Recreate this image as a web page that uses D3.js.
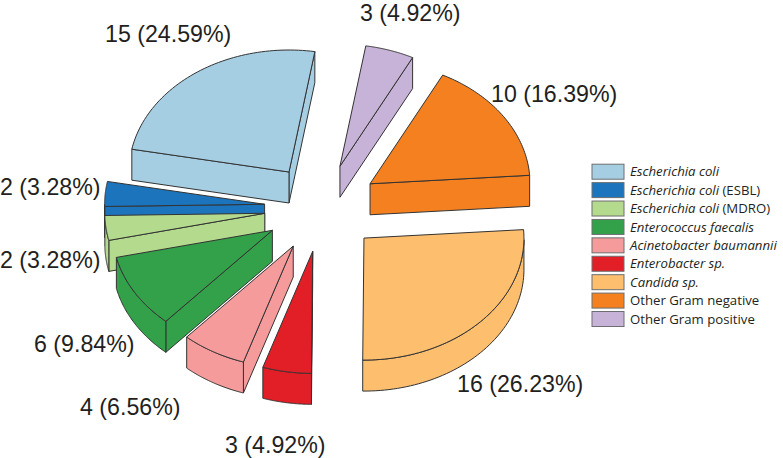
<!DOCTYPE html>
<html>
<head>
<meta charset="utf-8">
<script src="https://d3js.org/d3.v7.min.js"></script>
<style>
html, body { margin: 0; padding: 0; background: #fff; }
svg { display: block; }
.value { font-family: "Liberation Sans", Arial, sans-serif; font-size: 23.2px; fill: #231f20; }
.legendText { font-family: "Open Sans", sans-serif; font-size: 13.2px; fill: #231f20; }
</style>
</head>
<body>
<div id="chart"></div>
<script>
// chart values
var italicNames = ["Escherichia coli", "Escherichia coli", "Escherichia coli", "Enterococcus faecalis",
    "Acinetobacter baumannii", "Enterobacter sp.", "Candida sp.", "", ""];
var plainNames = ["", " (ESBL)", " (MDRO)", "", "", "", "", "Other Gram negative", "Other Gram positive"];
var counts = [15, 2, 2, 6, 4, 3, 16, 10, 3];
var shares = ["24.59", "3.28", "3.28", "9.84", "6.56", "4.92", "26.23", "16.39", "4.92"];

// styles and layout
var colors = ["#a6cee3", "#1c75bc", "#b4da8e", "#33a14a", "#f69b9b", "#e21e26", "#fdbe6e", "#f58020", "#c7b2d8"];
var labelX = [105, 0, 0, 34, 80, 225, 457, 491, 360];
var labelY = [42, 195, 268, 352, 415, 453, 392, 102, 21];

var width = 783, height = 458;
var cx = 322, cy = 208, rx = 160, ry = 122, depth = 31;
var explode = 0.36;

var svg = d3.select("#chart").append("svg")
    .attr("width", width)
    .attr("height", height);

var xScale = d3.scaleLinear().domain([-1, 1]).range([cx - rx, cx + rx]);
var yScale = d3.scaleLinear().domain([-1, 1]).range([cy + ry, cy - ry]);

// runs counter clockwise from just right of 12 o'clock
var startAngle = 9.3 * Math.PI / 180;
var pie = d3.pie().sort(null)
    .startAngle(startAngle)
    .endAngle(startAngle - 2 * Math.PI);

var line = d3.line();

function slicePoints(d) {
    var mid = (d.startAngle + d.endAngle) / 2;
    var ox = explode * Math.sin(mid), oy = explode * Math.cos(mid);
    function at(a, r) {
        return [xScale(ox + r * Math.sin(a)), yScale(oy + r * Math.cos(a))];
    }
    var arc = d3.range(0, 61).map(function(i) {
        return at(d.startAngle + (d.endAngle - d.startAngle) * i / 60, 1);
    });
    return { apex: at(0, 0), arc: arc };
}

function down(p) {
    return [p[0], p[1] + depth];
}

// wall under a straight edge, only when it faces the viewer
function edgeFaces(p, q, inside) {
    var nx = -(q[1] - p[1]), ny = q[0] - p[0];
    if (nx * (inside[0] - p[0]) + ny * (inside[1] - p[1]) > 0) ny = -ny;
    return ny > 0;
}

function drawWall(g, pts, fill) {
    g.append("path")
        .attr("d", line(pts.concat(pts.map(down).reverse())) + "Z")
        .attr("fill", fill)
        .attr("stroke", "#333")
        .attr("stroke-width", 1)
        .attr("stroke-linejoin", "round");
}

var slices = pie(counts);

slices.forEach(function(d, i) {
    var g = svg.append("g").attr("class", "slice");
    var s = slicePoints(d);
    var first = s.arc[0], last = s.arc[s.arc.length - 1];

    if (edgeFaces(s.apex, first, last)) drawWall(g, [s.apex, first], colors[i]);
    if (edgeFaces(s.apex, last, first)) drawWall(g, [s.apex, last], colors[i]);

    // outer rim, only the part of the arc below the slice's own centre
    var rim = s.arc.filter(function(p) { return p[1] >= s.apex[1]; });
    if (rim.length > 1) drawWall(g, rim, colors[i]);

    g.append("path")
        .attr("d", line([s.apex].concat(s.arc)) + "Z")
        .attr("fill", colors[i])
        .attr("stroke", "#333")
        .attr("stroke-width", 1)
        .attr("stroke-linejoin", "round");
});

svg.selectAll("text.value")
    .data(counts)
    .enter()
    .append("text")
    .attr("class", "value")
    .attr("x", function(d, i) { return labelX[i]; })
    .attr("y", function(d, i) { return labelY[i]; })
    .text(function(d, i) { return d + " (" + shares[i] + "%)"; });

// legend
var legendY = d3.scalePoint().domain(d3.range(counts.length)).range([171.7, 319]);

var rows = svg.selectAll("g.legendRow")
    .data(counts)
    .enter()
    .append("g")
    .attr("class", "legendRow")
    .attr("transform", function(d, i) { return "translate(592," + legendY(i) + ")"; });

rows.append("rect")
    .attr("x", 0)
    .attr("y", -7.5)
    .attr("width", 32)
    .attr("height", 15)
    .attr("fill", function(d, i) { return colors[i]; })
    .attr("stroke", "#6d6e71")
    .attr("stroke-width", 1);

var legendText = rows.append("text")
    .attr("class", "legendText")
    .attr("x", 38)
    .attr("y", 4.7);

legendText.append("tspan")
    .attr("font-style", "italic")
    .text(function(d, i) { return italicNames[i]; });

legendText.append("tspan")
    .attr("xml:space", "preserve")
    .text(function(d, i) { return plainNames[i]; });
</script>
</body>
</html>
